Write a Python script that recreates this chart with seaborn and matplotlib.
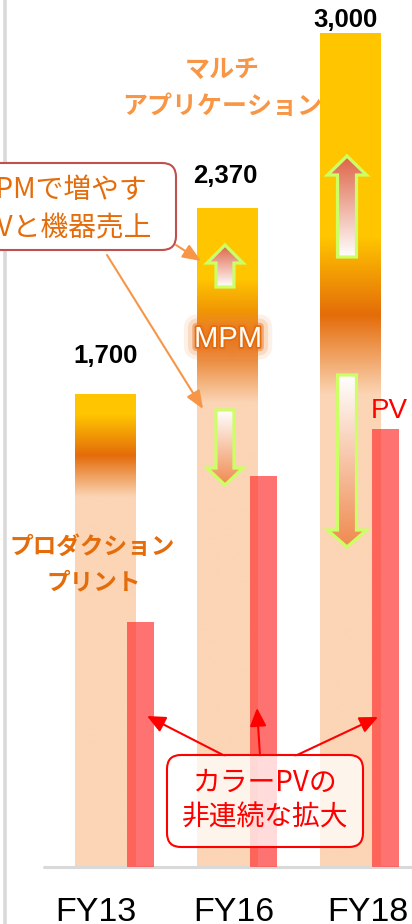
import numpy as np
import matplotlib
matplotlib.use("Agg")
import matplotlib.pyplot as plt
import seaborn as sns
from matplotlib.colors import LinearSegmentedColormap
from matplotlib.patches import Polygon, FancyBboxPatch
import matplotlib.patheffects as pe

# ---- data -------------------------------------------------------------
years = ["FY13", "FY16", "FY18"]
total_sales = [1700, 2370, 3000]        # total bar height
print_level = [1330, 1670, 1700]        # top of the production-print band
mpm_level = [1630, 2120, 2270]          # top of the MPM band
color_pv = [880, 1405, 1575]            # colour PV bars
value_labels = ["1,700", "2,370", "3,000"]

# ---- style ------------------------------------------------------------
sns.set_style("white")
LATIN = ["Liberation Sans", "DejaVu Sans"]
JP = ["Noto Sans CJK JP", "DejaVu Sans"]
plt.rcParams["font.family"] = LATIN

PEACH = "#FBD5B5"
ORANGE = "#E46C0A"
YELLOW = "#FFC600"
LIGHT_ORANGE = "#F79646"
GRID_GREY = "#D9D9D9"

W, H = 412, 924
BASE = 867          # baseline row
SCALE = 0.278       # pixels per sales unit
fig = plt.figure(figsize=(W / 100, H / 100), dpi=100)

# main plotting axes
ax = fig.add_axes([0, 0, 1, 1])
ax.set_axis_off()
xpos = np.arange(len(years))

sns.barplot(x=xpos, y=total_sales, native_scale=True, orient="x", width=0.49,
            color=PEACH, saturation=1, errorbar=None, linewidth=0, ax=ax,
            zorder=2)
bars = list(ax.patches)

# vertical colour bands inside each bar: print (peach) -> MPM (orange) -> multi-app (yellow)
band_cmap = LinearSegmentedColormap.from_list("band", [PEACH, ORANGE, YELLOW])
for bar, top, lo, hi in zip(bars, total_sales, print_level, mpm_level):
    ys = np.linspace(0, top, 800)
    t = np.clip((ys - lo) / (hi - lo), 0, 1)
    x0, w = bar.get_x(), bar.get_width()
    im = ax.imshow(t[:, None], extent=[x0, x0 + w, 0, top], origin="lower",
                   cmap=band_cmap, vmin=0, vmax=1, aspect="auto",
                   interpolation="bilinear", zorder=2.1)
    im.set_clip_path(bar)

# baseline
ax.axhline(0, xmin=44 / W, xmax=1, color=GRID_GREY, lw=2.2, zorder=2.5)

# colour PV bars
sns.barplot(x=xpos + 0.29, y=color_pv, native_scale=True, orient="x",
            width=0.22, color="#FF3030", alpha=0.68, saturation=1,
            errorbar=None, linewidth=0, ax=ax, zorder=3)

unit = 122.5
ax.set_xlim(-105 / unit, (W - 105) / unit)
ax.set_ylim(-(H - BASE) / SCALE, BASE / SCALE)
ax.set_aspect("auto")

# ---- annotation layer in pixel coordinates ---------------------------
ox = fig.add_axes([0, 0, 1, 1])
ox.set_xlim(0, W)
ox.set_ylim(H, 0)
ox.set_axis_off()
ox.patch.set_visible(False)

# left rule
ox.plot([5, 5], [0, H], color=GRID_GREY, lw=2.6, solid_capstyle="butt")


def block_arrow(cx, y_tip, y_head, y_tail, head_half, shaft_half, top_col, bot_col):
    pts = [(cx, y_tip), (cx + head_half, y_head), (cx + shaft_half, y_head),
           (cx + shaft_half, y_tail), (cx - shaft_half, y_tail),
           (cx - shaft_half, y_head), (cx - head_half, y_head)]
    poly = Polygon(pts, closed=True, fc="none", ec="#CCFF66", lw=2.3,
                   joinstyle="miter", zorder=5)
    ox.add_patch(poly)
    y_top, y_bot = min(y_tip, y_tail), max(y_tip, y_tail)
    cm = LinearSegmentedColormap.from_list("fill", [top_col, bot_col])
    grad = np.linspace(0, 1, 200)[:, None]
    img = ox.imshow(grad, extent=[cx - head_half, cx + head_half, y_bot, y_top],
                    origin="upper", cmap=cm, aspect="auto",
                    interpolation="bilinear", zorder=4.9)
    img.set_clip_path(poly)


UP_TOP, UP_BOT = "#DE6446", "#FFFFFF"
DN_TOP, DN_BOT = "#FFFFFF", "#F08A4E"
block_arrow(225, 245, 263, 287, 18, 9, UP_TOP, UP_BOT)
block_arrow(225, 485, 468, 410, 18, 9, DN_TOP, DN_BOT)
block_arrow(347, 156, 175, 257, 19.5, 9.5, UP_TOP, UP_BOT)
block_arrow(347, 547, 530, 375, 19.5, 9.5, DN_TOP, DN_BOT)

# MPM glowing label
ox.text(228, 339, "MPM", color="white", fontsize=21, ha="center", va="center",
        family=LATIN, zorder=6,
        path_effects=[pe.Stroke(linewidth=18, foreground="#F39A55", alpha=0.14),
                      pe.Stroke(linewidth=12, foreground="#F08C3C", alpha=0.22),
                      pe.Stroke(linewidth=6, foreground="#EC7A2A", alpha=0.5),
                      pe.Stroke(linewidth=2.5, foreground="#E46C0A"),
                      pe.Normal()])

# value labels
for xc, yb, txt in zip([106, 225, 345], [363, 183, 27], value_labels):
    ox.text(xc, yb, txt, fontsize=18.5, fontweight="bold", ha="center",
            va="baseline", color="black", family=LATIN, zorder=6)

# segment captions
ox.text(222, 70, "マルチ", fontsize=18, fontweight="bold", color=LIGHT_ORANGE,
        ha="center", va="center", family=JP, zorder=6)
ox.text(222, 107, "アプリケーション", fontsize=18, fontweight="bold",
        color=LIGHT_ORANGE, ha="center", va="center", family=JP, zorder=6)
ox.text(92, 547, "プロダクション", fontsize=17, fontweight="bold", color=ORANGE,
        ha="center", va="center", family=JP, zorder=6)
ox.text(94, 582, "プリント", fontsize=17, fontweight="bold", color=ORANGE,
        ha="center", va="center", family=JP, zorder=6)

# PV caption
ox.text(389, 418, "PV", fontsize=20, color="#FF0000", ha="center",
        va="baseline", family=LATIN, zorder=6)

# MPM call-out
ox.add_patch(FancyBboxPatch((-40, 163), 216, 87,
                            boxstyle="round,pad=0,rounding_size=14",
                            fc="white", ec="#C0504D", lw=1.5, zorder=7))
ox.text(147, 190, "MPMで増やす", fontsize=20, color=ORANGE, ha="right",
        va="center", family=JP, zorder=8)
ox.text(152, 228, "PVと機器売上", fontsize=20, color=ORANGE, ha="right",
        va="center", family=JP, zorder=8)
orange_arrow = dict(arrowstyle="-|>,head_length=1.1,head_width=0.45",
                    color=LIGHT_ORANGE, lw=1.5, shrinkA=0, shrinkB=0)
ox.annotate("", xy=(201, 261), xytext=(176, 245), arrowprops=orange_arrow,
            zorder=6)
ox.annotate("", xy=(203, 409), xytext=(107, 255), arrowprops=orange_arrow,
            zorder=6)

# colour PV call-out
red_arrow = dict(arrowstyle="-|>,head_length=1.1,head_width=0.5",
                 color="#FF0000", lw=1.5, shrinkA=0, shrinkB=0)
for tail, tip in [((225, 756), (147, 716)), ((260, 756), (257, 708)),
                  ((295, 756), (378, 717))]:
    ox.annotate("", xy=tip, xytext=tail, arrowprops=red_arrow, zorder=6)
ox.add_patch(FancyBboxPatch((167, 755), 196, 92,
                            boxstyle="round,pad=0,rounding_size=14",
                            fc=(1, 1, 1, 0.75), ec="#FF0000", lw=1.5, zorder=7))
ox.text(265, 783, "カラーPVの", fontsize=20, color="#FF0000", ha="center",
        va="center", family=JP, zorder=8)
ox.text(265, 818, "非連続な拡大", fontsize=20, color="#FF0000", ha="center",
        va="center", family=JP, zorder=8)

# category labels
for xc, txt in zip([96, 234, 368], years):
    ox.text(xc, 921, txt, fontsize=24.5, color="black", ha="center",
            va="baseline", family=LATIN, zorder=6)

fig.savefig("out.png", dpi=100)
